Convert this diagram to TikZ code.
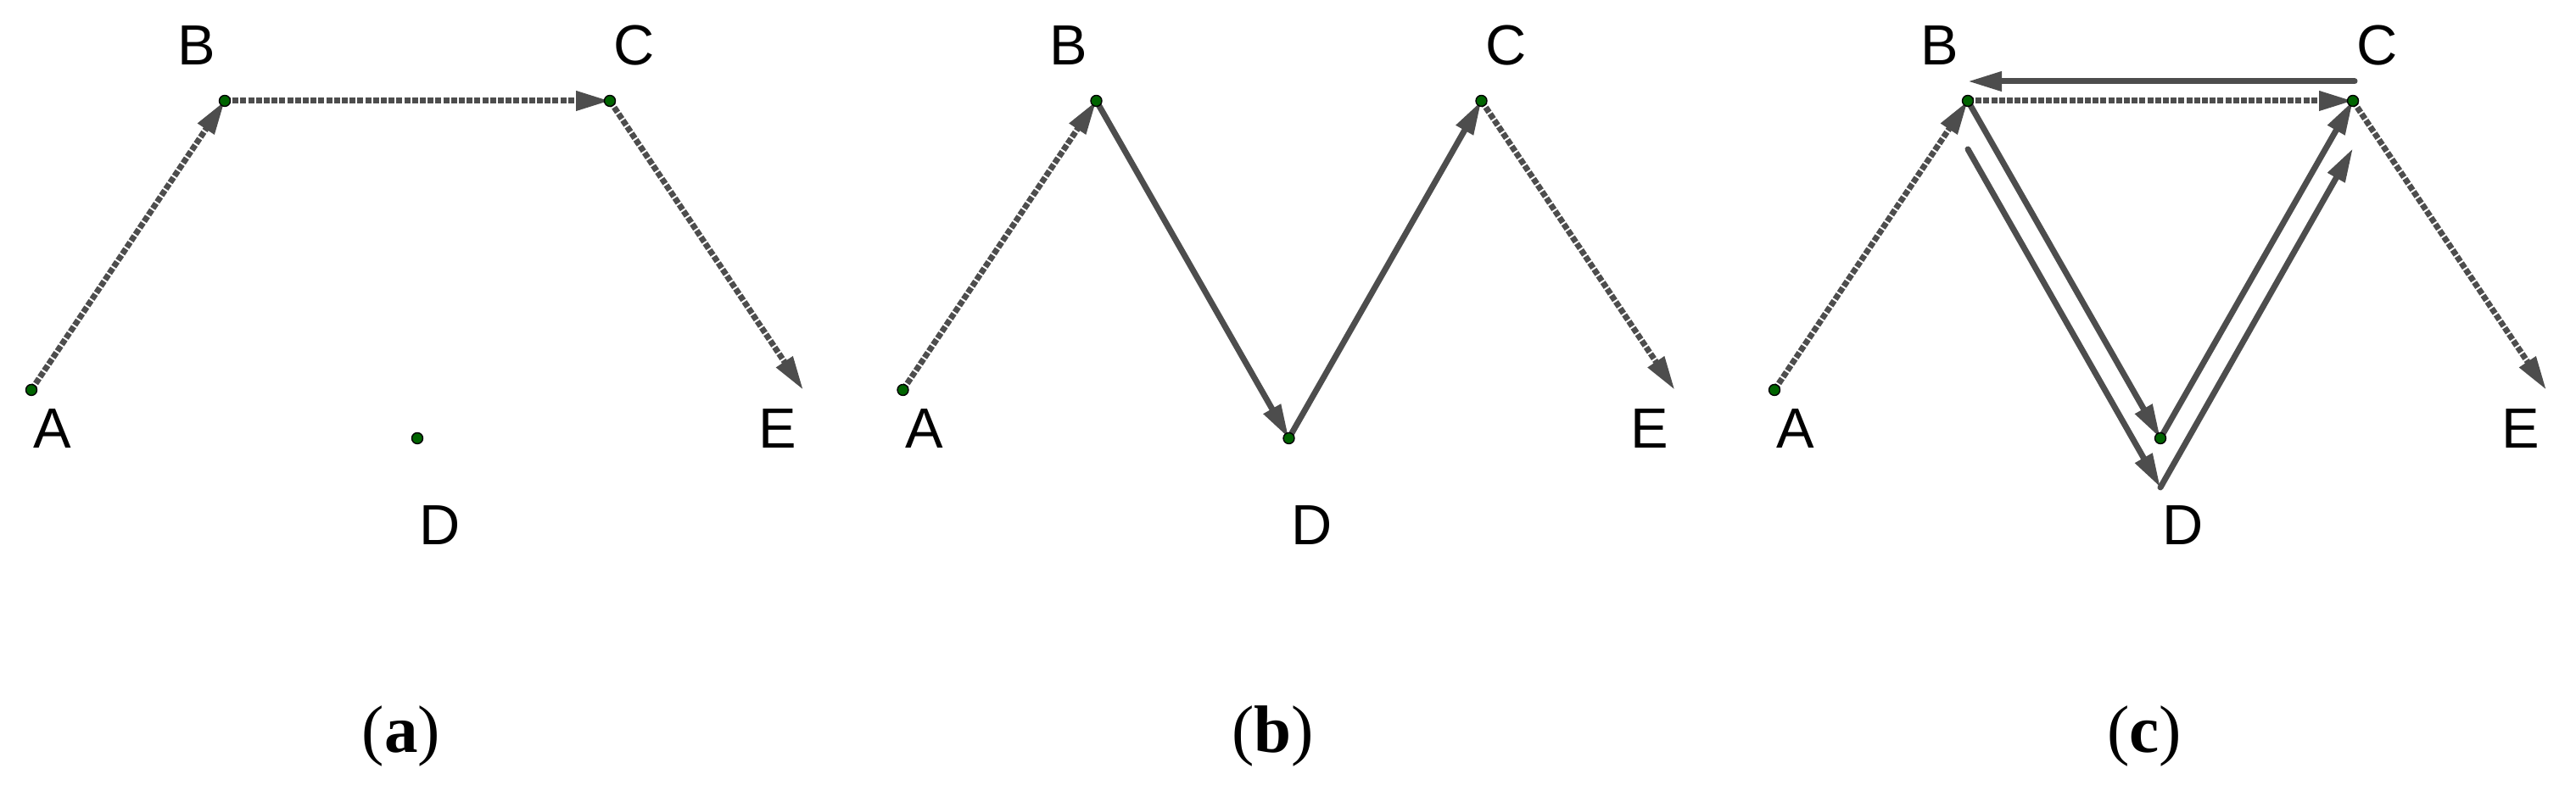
\documentclass[tikz,border=0pt]{standalone}
\usepackage{fontspec}
\setmainfont{Liberation Serif}
\newfontfamily\lblfont{Liberation Sans}
\usetikzlibrary{arrows.meta,calc}
\definecolor{vecgray}{RGB}{77,77,77}
\definecolor{ptgreen}{RGB}{0,100,0}

\begin{document}
\begin{tikzpicture}[
    vec/.style={-{Triangle[length=0.4cm,width=0.22cm]},line width=0.07cm,color=vecgray,line cap=round},
    dotvec/.style={vec,line cap=butt,dash pattern=on 0.07cm off 0.022cm},
    pt/.style={circle,draw=black,line width=0.4pt,fill=ptgreen,inner sep=0pt,minimum size=0.13cm},
    lbl/.style={font=\lblfont\fontsize{19}{22}\selectfont,inner sep=0pt},
    subcap/.style={font=\fontsize{22.5}{26}\selectfont,inner sep=0pt}]
    \useasboundingbox (0,0) rectangle (30.37,9.39);
    \def\dx{10.275}

    % points of the three panels
    \foreach \p [count=\i from 0] in {a,b,c} {
      \coordinate (\p A) at (\i*\dx+0.37,4.79);
      \coordinate (\p B) at (\i*\dx+2.65,8.20);
      \coordinate (\p C) at (\i*\dx+7.19,8.20);
      \coordinate (\p D) at (\i*\dx+4.92,4.22);
      \coordinate (\p E) at (\i*\dx+9.47,4.79);
    }

    %(a)
    \draw [dotvec] (aA) -- (aB);
    \draw [dotvec] (aB) -- (aC);
    \draw [dotvec] (aC) -- (aE);

    %(b)
    \draw [dotvec] (bA) -- (bB);
    \draw [vec] (bB) -- (bD);
    \draw [vec] (bD) -- (bC);
    \draw [dotvec] (bC) -- (bE);

    %(c)
    \coordinate (cB2) at ($(cB)+(0,-0.57)$);
    \coordinate (cD2) at ($(cD)+(0,-0.58)$);
    \coordinate (cC2) at ($(cC)+(0,-0.56)$);
    \coordinate (cC3) at ($(cC)+(0.02,0.23)$);
    \coordinate (cB3) at ($(cB)+(0,0.23)$);
    \draw [dotvec] (cA) -- (cB);
    \draw [dotvec] (cB) -- (cC);
    \draw [dotvec] (cC) -- (cE);
    \draw [vec] (cB) -- (cD);
    \draw [vec] (cD) -- (cC);
    \draw [vec] (cB2) -- (cD2);
    \draw [vec] (cD2) -- (cC2);
    \draw [vec] (cC3) -- (cB3);

    % dots and labels
    \foreach \p/\i in {a/0,b/1,c/2} {
      \foreach \q in {A,B,C,D}
        \node [pt] (\p\q pt) at (\p\q) {};
      \node [lbl] (\p Alab) at (\i*\dx+0.62,4.33) {A};
      \node [lbl] (\p Blab) at (\i*\dx+2.32,8.85) {B};
      \node [lbl] (\p Clab) at (\i*\dx+7.48,8.85) {C};
      \node [lbl] (\p Dlab) at (\i*\dx+5.19,3.19) {D};
      \node [lbl] (\p Elab) at (\i*\dx+9.17,4.33) {E};
      \node [subcap] (\p cap) at (\i*\dx+4.73,0.71) {(\textbf{\p})};
    }
\end{tikzpicture}
\end{document}
